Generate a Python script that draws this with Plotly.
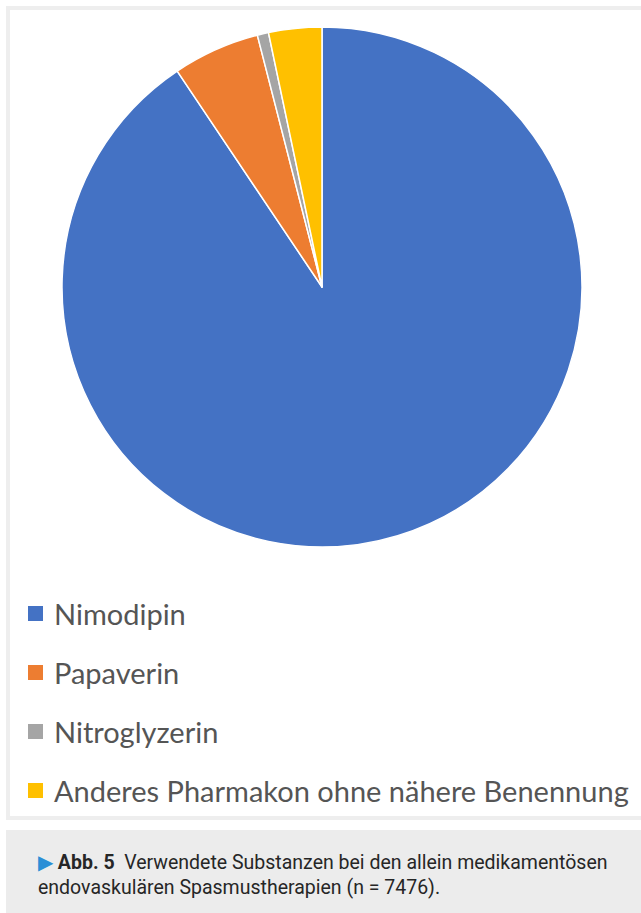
import plotly.graph_objects as go

# Substances used in drug-only endovascular spasm therapy (share in %, n = 7476)
labels = ["Nimodipin", "Papaverin", "Nitroglyzerin", "Anderes Pharmakon ohne nähere Benennung"]
shares = [90.6, 5.4, 0.7, 3.3]
colors = ["#4472C4", "#ED7D31", "#A5A5A5", "#FFC000"]

W, H = 641, 913
cx, cy, r = 322, 287, 260

fig = go.Figure()
fig.add_trace(go.Pie(
    labels=labels,
    values=shares,
    sort=False,
    direction="clockwise",
    rotation=0,
    textinfo="none",
    hoverinfo="label+percent",
    marker=dict(colors=colors, line=dict(color="white", width=1.5)),
    domain=dict(x=[(cx - r) / W, (cx + r) / W], y=[1 - (cy + r) / H, 1 - (cy - r) / H]),
    showlegend=False,
))

shapes = []
annotations = []

# soft frame around the chart area
shapes.append(dict(type="rect", xref="paper", yref="paper",
                   x0=8 / W, x1=(W + 4) / W, y0=1 - 818 / H, y1=1 - 8 / H,
                   line=dict(color="#eeeeee", width=4), fillcolor="rgba(0,0,0,0)", layer="below"))

# legend rows
legend_y = [613, 672, 731, 790]
for lab, col, yy in zip(labels, colors, legend_y):
    shapes.append(dict(type="rect", xref="paper", yref="paper",
                       x0=28 / W, x1=43 / W, y0=1 - (yy + 8) / H, y1=1 - (yy - 7) / H,
                       fillcolor=col, line=dict(width=0)))
    annotations.append(dict(xref="paper", yref="paper", x=52 / W, y=1 - yy / H,
                            xanchor="left", yanchor="middle", showarrow=False,
                            text=lab, font=dict(family="Lato, Open Sans, sans-serif", size=29, color="#555555")))

# caption box
shapes.append(dict(type="rect", xref="paper", yref="paper",
                   x0=6 / W, x1=1, y0=0, y1=1 - 830 / H,
                   fillcolor="#ececec", line=dict(width=0), layer="below"))
annotations.append(dict(
    xref="paper", yref="paper", x=36 / W, y=1 - 875 / H,
    xanchor="left", yanchor="middle", align="left", showarrow=False,
    text=("<span style='color:#2a8fd6'>▶</span> <b>Abb. 5</b>  Verwendete Substanzen bei den allein medikamentösen"
          "<br>endovaskulären Spasmustherapien (n = 7476)."),
    font=dict(family="Roboto, sans-serif", size=19.5, color="#262626"),
))

fig.update_layout(
    width=W, height=H,
    margin=dict(l=0, r=0, t=0, b=0),
    paper_bgcolor="white",
    plot_bgcolor="white",
    shapes=shapes,
    annotations=annotations,
)

fig.write_html("out.html")
